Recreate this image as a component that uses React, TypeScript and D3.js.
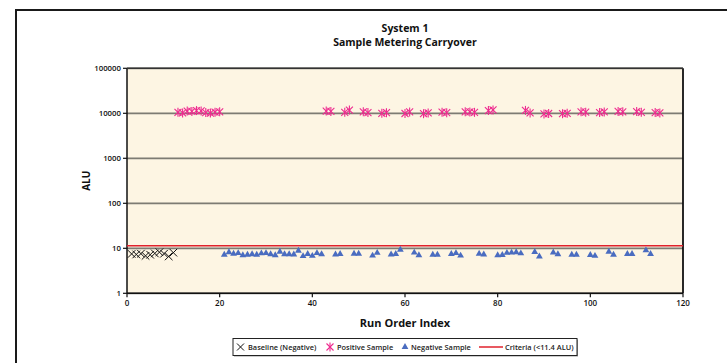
import React from "react";
import * as d3 from "d3";

const baselineX = [1, 2, 3, 4, 5, 6, 7, 8, 9, 10];
const baselineY = [7.5, 7.3, 7.6, 6.8, 7.2, 7.7, 8.2, 7.6, 6.6, 8.0];

const positiveX = [11, 12, 13, 14, 15, 16, 17, 18, 19, 20, 43, 44, 47, 48, 51, 52, 55, 56, 60, 61, 64, 65, 68, 69, 73, 74, 75, 78, 79, 86, 87, 90, 91, 94, 95, 98, 99, 102, 103, 106, 107, 110, 111, 114, 115];
const positiveY = [10500, 10200, 11200, 11000, 11500, 11300, 10400, 10100, 10600, 10800, 11200, 11000, 10500, 11800, 10800, 10400, 10000, 10300, 9900, 10700, 9800, 10200, 10600, 10300, 10800, 10700, 10500, 11500, 11900, 11600, 10200, 9700, 9900, 9800, 10000, 10800, 10600, 10400, 10700, 11000, 10800, 10900, 10500, 10400, 10200];

const negativeX = [21, 22, 23, 24, 25, 26, 27, 28, 29, 30, 31, 32, 33, 34, 35, 36, 37, 38, 39, 40, 41, 42, 45, 46, 49, 50, 53, 54, 57, 58, 59, 62, 63, 66, 67, 70, 71, 72, 76, 77, 80, 81, 82, 83, 84, 85, 88, 89, 92, 93, 96, 97, 100, 101, 104, 105, 108, 109, 112, 113];
const negativeY = [7.2, 8.2, 7.6, 7.8, 7.0, 7.2, 7.4, 7.2, 7.7, 7.8, 7.4, 7.0, 8.4, 7.4, 7.4, 7.3, 8.8, 6.7, 7.5, 6.8, 7.8, 7.4, 7.3, 7.5, 7.6, 7.6, 6.9, 7.9, 7.3, 7.5, 9.3, 8.0, 7.0, 7.2, 7.2, 7.5, 7.8, 6.9, 7.6, 7.3, 7.0, 7.1, 7.9, 8.0, 8.2, 7.7, 8.3, 6.6, 8.1, 7.4, 7.2, 7.2, 7.1, 6.8, 8.4, 7.2, 7.5, 7.5, 9.0, 7.5];

const criteria = 11.4;
const yTicks = [1, 10, 100, 1000, 10000, 100000];
const xTicks = [0, 20, 40, 60, 80, 100, 120];
const titleLines = ["System 1", "Sample Metering Carryover"];
const legendLabels = ["Baseline (Negative)", "Positive Sample", "Negative Sample", "Criteria (<11.4 ALU)"];

const FONT = "'Open Sans', 'Noto Sans', sans-serif";
const PINK = "#EE2A8F";
const BLUE = "#4A6CC0";
const RED = "#E0222C";

const L = 127, R = 683, T = 68.3, B = 293.3;

export default function App() {
  const x = d3.scaleLinear().domain([0, 120]).range([L, R]);
  const y = d3.scaleLog().domain([1, 100000]).range([B, T]);
  const tri = d3.symbol().type(d3.symbolTriangle).size(20)() as string;

  const xMark = (cx: number, cy: number, s: number, key: string, color: string, w: number) => (
    <g key={key} stroke={color} strokeWidth={w}>
      <line x1={cx - s} y1={cy - s} x2={cx + s} y2={cy + s} />
      <line x1={cx - s} y1={cy + s} x2={cx + s} y2={cy - s} />
    </g>
  );
  const star = (cx: number, cy: number, key: string) => (
    <g key={key} stroke={PINK} strokeWidth={1.1}>
      <line x1={cx - 3.5} y1={cy - 3.5} x2={cx + 3.5} y2={cy + 3.5} />
      <line x1={cx - 3.5} y1={cy + 3.5} x2={cx + 3.5} y2={cy - 3.5} />
      <line x1={cx} y1={cy - 4.5} x2={cx} y2={cy + 4.5} />
    </g>
  );

  const cx = (L + R) / 2;
  const ly = 347;

  return (
    <svg width={727} height={363} style={{ position: "absolute", left: 0, top: 0, background: "#fff" }} fontFamily={FONT}>
      <rect x={16} y={10} width={800} height={400} fill="#fff" stroke="#1a1a1a" strokeWidth={2} />
      {titleLines.map((t, i) => (
        <text key={t} x={cx} y={31.5 + i * 14.5} textAnchor="middle" fontWeight={700} fontSize={10.5} fill="#111">{t}</text>
      ))}
      <rect x={L} y={T} width={R - L} height={B - T} fill="#FDF5E3" />
      {yTicks.map((t) => (
        <g key={t}>
          <line x1={L} x2={R} y1={y(t)} y2={y(t)} stroke="#7d7b73" strokeWidth={1.8} />
          <line x1={L - 4} x2={L} y1={y(t)} y2={y(t)} stroke="#111" strokeWidth={1.2} />
          <text x={L - 6} y={y(t) + 2.8} textAnchor="end" fontSize={7.8} fontWeight={600} fill="#111">{t}</text>
        </g>
      ))}
      <line x1={L} x2={L} y1={T} y2={B} stroke="#111" strokeWidth={1.5} />
      <line x1={L} x2={R} y1={B} y2={B} stroke="#111" strokeWidth={1.5} />
      <line x1={R} x2={R} y1={T} y2={B} stroke="#111" strokeWidth={1.8} />
      <line x1={L} x2={R} y1={T} y2={T} stroke="#333" strokeWidth={1.5} />
      {xTicks.map((t) => (
        <g key={t}>
          <line x1={x(t)} x2={x(t)} y1={B} y2={B + 4} stroke="#111" strokeWidth={1.2} />
          <text x={x(t)} y={B + 13} textAnchor="middle" fontSize={8} fontWeight={600} fill="#111">{t}</text>
        </g>
      ))}
      <line x1={L} x2={R} y1={y(criteria)} y2={y(criteria)} stroke={RED} strokeWidth={1.5} />
      {baselineX.map((v, i) => xMark(x(v), y(baselineY[i]), 3.8, "b" + i, "#111", 1))}
      {positiveX.map((v, i) => star(x(v), y(positiveY[i]), "p" + i))}
      {negativeX.map((v, i) => (
        <path key={"n" + i} d={tri} transform={`translate(${x(v)},${y(negativeY[i])})`} fill={BLUE} />
      ))}
      <text x={0} y={0} transform={`translate(90,${(T + B) / 2}) rotate(-90)`} textAnchor="middle" fontWeight={700} fontSize={10} fill="#111">ALU</text>
      <text x={cx} y={327} textAnchor="middle" fontWeight={700} fontSize={11} fill="#111">Run Order Index</text>
      <rect x={234} y={339.5} width={344} height={17} fill="#999" />
      <rect x={233} y={338.5} width={344} height={17} fill="#fff" stroke="#222" strokeWidth={1} />
      {xMark(240.5, ly, 3.5, "lb", "#111", 1)}
      <text x={248} y={ly + 2.7} fontSize={7.4} fontWeight={600} fill="#222">{legendLabels[0]}</text>
      {star(330, ly, "lp")}
      <text x={337} y={ly + 2.7} fontSize={7.4} fontWeight={600} fill="#222">{legendLabels[1]}</text>
      <path d={tri} transform={`translate(405,${ly})`} fill={BLUE} />
      <text x={411} y={ly + 2.7} fontSize={7.4} fontWeight={600} fill="#222">{legendLabels[2]}</text>
      <line x1={479} x2={503} y1={ly} y2={ly} stroke={RED} strokeWidth={1.5} />
      <text x={505} y={ly + 2.7} fontSize={7.4} fontWeight={600} fill="#222">{legendLabels[3]}</text>
    </svg>
  );
}
